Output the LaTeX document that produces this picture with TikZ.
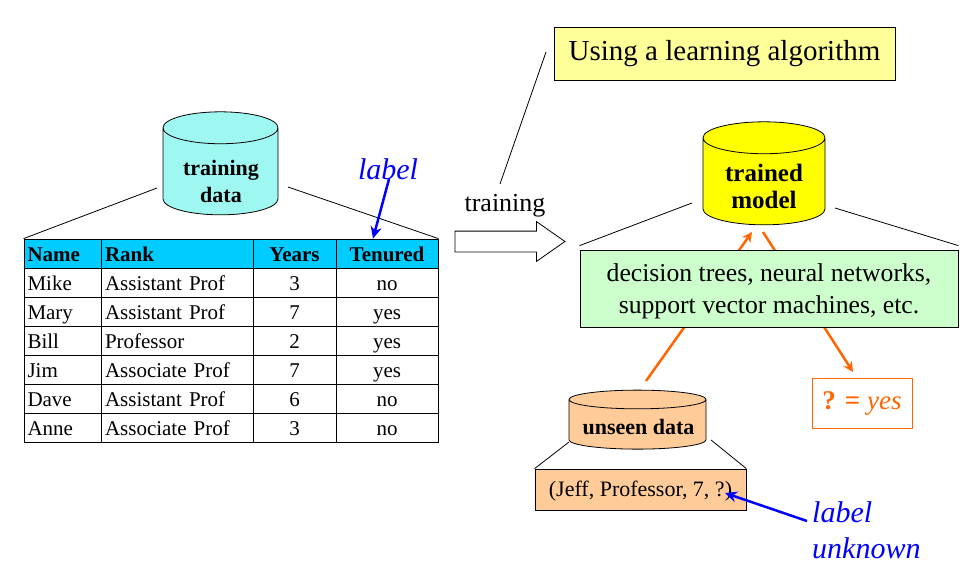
\documentclass[tikz,border=0pt]{standalone}
\usepackage{fontspec}
\setmainfont{Liberation Serif}
\usetikzlibrary{shapes,arrows,arrows.meta,positioning,calc}

\definecolor{dbcyan}{HTML}{9FF7F2}
\definecolor{headcyan}{HTML}{00CCFF}
\definecolor{dbyellow}{HTML}{FFFF00}
\definecolor{notepale}{HTML}{FFFF99}
\definecolor{algogreen}{HTML}{CCFFCC}
\definecolor{peach}{HTML}{FFCC99}
\definecolor{flow}{HTML}{FF6600}
\definecolor{labelblue}{HTML}{0000FF}

\tikzset{
  db/.style={draw=black, cylinder, shape border rotate=90, aspect=0.42, text width=76pt, cylinder uses custom fill,
    line width=0.8pt, inner sep=0pt},
  dbtext/.style={align=center, inner sep=0pt, font=\fontsize{#1}{27}\selectfont\bfseries},
  cell/.style={draw=black, line width=0.8pt, minimum height=29pt, inner sep=0pt, text height=17pt, text depth=1pt,
    font=\fontsize{21}{23}\selectfont},
  headcell/.style={fill=headcyan, font=\fontsize{21}{23}\selectfont\bfseries},
  bluelabel/.style={text=labelblue, font=\fontsize{30}{36}\selectfont\itshape},
  bluearrow/.style={labelblue, line width=2.5pt, -{Stealth[length=12pt,width=11pt]}},
  flowarrow/.style={flow, line width=2.5pt, -{Stealth[length=10pt,width=10pt]}},
  thinline/.style={black, line width=0.8pt}
}

\begin{document}
\begin{tikzpicture}[x=1pt,y=-1pt]
\useasboundingbox[fill=white] (0,0) rectangle (979,581);

% Training data table
\foreach \name/\rank/\years/\tenured [count=\r from 0] in
    {Mike/Assistant Prof/3/no, Mary/Assistant Prof/7/yes, Bill/Professor/2/yes,
     Jim/Associate Prof/7/yes, Dave/Assistant Prof/6/no, Anne/Associate Prof/3/no} {
  \pgfmathsetmacro{\y}{282.5 + \r * 29}
  \node[cell, text width=70pt, align=left, minimum width=77pt] (name\r) at (62.5, \y) {\name};
  \node[cell, text width=144pt, align=left, minimum width=152pt] (rank\r) at (177, \y) {\rank};
  \node[cell, minimum width=83pt] (years\r) at (294.5, \y) {\years};
  \node[cell, minimum width=102pt] (tenured\r) at (387, \y) {\tenured};
}
\node[cell, headcell, text width=70pt, align=left, minimum width=77pt] (headname) at (62.5, 253.5) {Name};
\node[cell, headcell, text width=144pt, align=left, minimum width=152pt] (headrank) at (177, 253.5) {Rank};
\node[cell, headcell, minimum width=83pt] (headyears) at (294.5, 253.5) {Years};
\node[cell, headcell, minimum width=102pt] (headtenured) at (387, 253.5) {Tenured};

% Training data
\node[db, cylinder body fill=dbcyan, cylinder end fill=dbcyan, minimum width=115pt, minimum height=103pt] (traindb) at (220.5, 171.5) {};
\node[dbtext=22] (traintext) at (221, 181.5) {training\\data};
\coordinate (trainleft) at (157, 188);
\coordinate (trainright) at (288, 187);
\draw[thinline] (trainleft) -- (headname.north west);
\draw[thinline] (trainright) -- (headtenured.north east);

\node[bluelabel] (tablelabel) at (388, 169) {label};
\draw[bluearrow] (tablelabel.south) ++(1,-4) -- (headtenured.north -| 373,0);

% Training step
\node[font=\fontsize{26}{30}\selectfont] (trainword) at (505, 206) {training};
\node[draw=black, fill=white, single arrow, single arrow head extend=9.5pt, line width=0.8pt,
  minimum height=110pt, inner sep=10pt, single arrow tip angle=70] (trainarrow) at (502.5, 241.5) {};

% Learning algorithm note
\node[draw=black, fill=notepale, minimum width=341pt, minimum height=53pt, inner sep=0pt,
  line width=0.8pt, font=\fontsize{29}{36}\selectfont] (algonote) at (724.5, 53.5) {Using a learning algorithm};
\coordinate (noteend) at (546, 52);
\coordinate (trainend) at (500, 184);
\draw[thinline] (noteend) -- (trainend);

% Flow of the unseen record, behind the model box
\coordinate (unseentail) at (646, 381);
\coordinate (modeltip) at (752, 232);
\coordinate (modelout) at (763, 232);
\coordinate (answertip) at (853, 372);
\draw[flowarrow] (unseentail) -- (modeltip);
\draw[flowarrow] (modelout) -- (answertip);

% Trained model
\node[db, cylinder body fill=dbyellow, cylinder end fill=dbyellow, minimum width=122pt, minimum height=103pt] (modeldb) at (764, 181.5) {};
\node[dbtext=25] (modeltext) at (764, 186.5) {trained\\model};
\node[draw=black, fill=algogreen, minimum width=378pt, minimum height=77pt, inner sep=0pt, align=center,
  line width=0.8pt, font=\fontsize{25.7}{32}\selectfont] (methods) at (769, 288.5)
  {\rule{0pt}{23pt}decision trees, neural networks,\\support vector machines, etc.};
\coordinate (modelleft) at (692, 203);
\coordinate (modelright) at (835, 208);
\draw[thinline] (modelleft) -- ($(methods.north west)+(0,-4)$);
\draw[thinline] (modelright) -- ($(methods.north east)+(0,-4)$);

% Prediction
\node[draw=flow, fill=white, text=flow, minimum width=100pt, minimum height=50pt, inner sep=0pt, line width=0.8pt,
  font=\fontsize{27}{30}\selectfont] (answer) at (862, 403) {\textbf{? =} \textit{yes}};

% Unseen data
\node[db, aspect=0.17, text width=110pt, cylinder body fill=peach, cylinder end fill=peach, minimum width=137pt, minimum height=59pt] (unseendb) at (637.5, 424.5) {};
\node[dbtext=22] (unseentext) at (638.5, 427) {unseen data};
\node[draw=black, fill=peach, minimum width=211pt, minimum height=41pt, inner sep=0pt, line width=0.8pt,
  text height=18pt, text depth=4pt, font=\fontsize{22}{26}\selectfont] (record) at (640.5, 489.5) {(Jeff, Professor, 7, ?)};
\coordinate (unseenleft) at (569, 442);
\coordinate (unseenright) at (711, 440);
\draw[thinline] (unseenleft) -- (record.north west);
\draw[thinline] (unseenright) -- (record.north east);

\node[bluelabel, align=left, anchor=north west, inner sep=0pt] (recordlabel) at (812, 501) {label\\unknown};
\coordinate (recordtail) at (807, 521);
\coordinate (recordtip) at (725, 493);
\draw[bluearrow] (recordtail) -- (recordtip);

\end{tikzpicture}
\end{document}
